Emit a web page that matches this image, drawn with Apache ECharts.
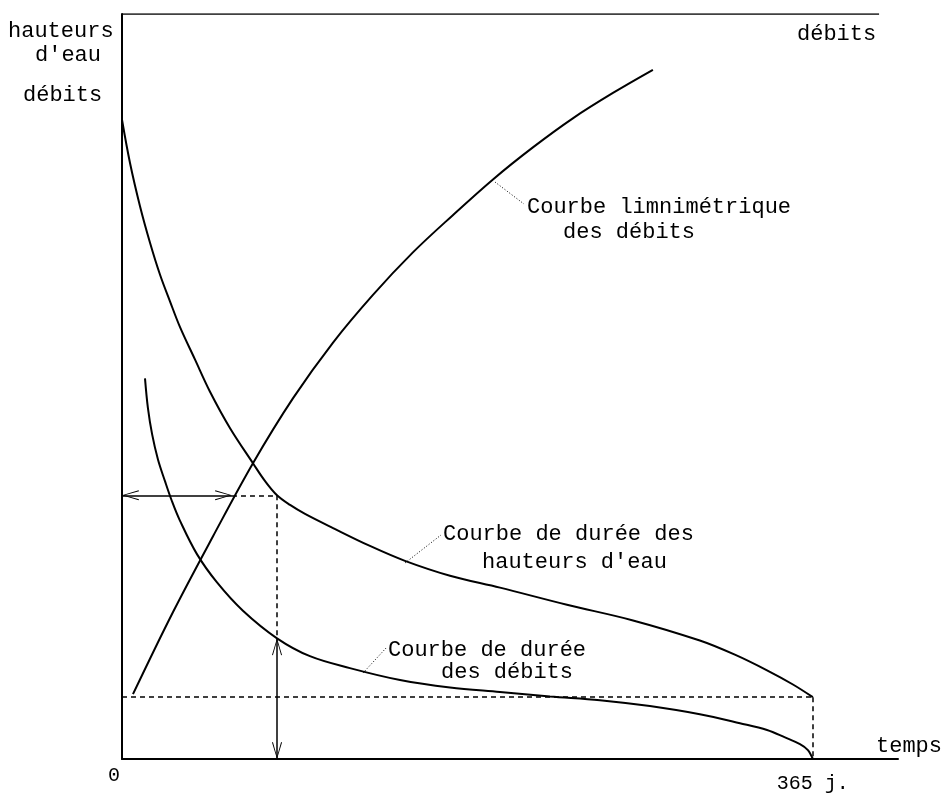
<!DOCTYPE html>
<html>
<head>
<meta charset="utf-8">
<script src="https://cdn.jsdelivr.net/npm/echarts@6/dist/echarts.min.js"></script>
<style>
  html, body { margin: 0; padding: 0; background: #fff; }
  #chart { width: 942px; height: 794px; }
</style>
</head>
<body>
<div id="chart"></div>
<script>
// jours (0 - 365) et ordonnées relatives (0 - 100)
const hauteursX = [0, 4.23, 9.51, 14.8, 20.1, 25.4, 30.6, 38.6, 46.5, 57.1, 69.2, 75.6, 81.9, 88.8, 96.7, 111.5, 131.0, 149.5, 173.3, 199.7, 235.1, 270.0, 305.3, 323.8, 340.8, 354.5, 365];
const hauteursY = [85.8, 80.0, 74.2, 69.3, 65.0, 61.4, 58.0, 53.6, 49.3, 44.4, 39.7, 37.3, 35.4, 34.1, 32.9, 31.0, 28.6, 26.6, 24.6, 23.0, 20.7, 18.6, 15.9, 14.0, 11.9, 10.0, 8.3];

const debitsX = [12.15, 13.7, 15.9, 19.0, 22.7, 26.4, 30.6, 39.6, 50.2, 63.9, 81.9, 99.3, 120.4, 146.9, 173.3, 199.7, 226.1, 252.5, 278.9, 305.3, 326.5, 340.8, 350.3, 358.2, 362.4, 365];
const debitsY = [51.1, 47.1, 43.6, 40.2, 37.3, 34.6, 32.0, 27.5, 23.7, 19.9, 16.2, 13.8, 12.2, 10.6, 9.6, 9.0, 8.4, 7.9, 7.1, 6.0, 4.8, 3.9, 2.9, 2.0, 1.2, 0];

const limniX = [5.8, 26.9, 48.1, 69.2, 90.3, 111.5, 132.6, 153.7, 174.8, 196.0, 217.1, 238.2, 259.4, 280.5];
const limniY = [8.7, 19.7, 29.9, 39.7, 48.4, 55.9, 62.3, 68.0, 73.0, 77.8, 82.1, 86.0, 89.4, 92.5];

// lecture : hauteur -> débit (limnimétrique) -> durée
const lectureHauteur = 35.4;
const lectureDebitJour = 58.1;
const lectureJour = 81.9;
const lectureDebit = 16.2;
const debitMin = 8.3;
const debitMinDebut = 0;
const anneeJours = 365;

const xTicks = [0, 365];
const xTickLabels = ['0', '365 j.'];

const frameTopX = [0, 400];

const FONT = '"Liberation Mono", "DejaVu Sans Mono", monospace';

const zip = (xs, ys) => xs.map((x, i) => [x, ys[i]]);

// open arrow head, tip at the centre of its box
const arrowPath = 'path://M0,0 L5,17 L4.1,17.4 L0,2.6 L-4.1,17.4 L-5,17 Z M0,-17.4 L0.01,-17.4 Z';
const solid = { color: '#000', width: 1.5, type: 'solid' };
const dashed = { color: '#000', width: 1.5, type: [5, 4] };

const chart = echarts.init(document.getElementById('chart'), null, { renderer: 'canvas' });

const txt = (x, y, text) => ({
  type: 'text', x: x, y: y,
  style: { text: text, font: '22px ' + FONT, fill: '#000', verticalAlign: 'middle' }
});
const leader = (x1, y1, x2, y2) => ({
  type: 'line',
  shape: { x1: x1, y1: y1, x2: x2, y2: y2 },
  style: { stroke: '#000', lineWidth: 1, lineDash: [1, 2] }
});

const curve = (name, xs, ys) => ({
  name: name, type: 'line',
  data: zip(xs, ys), smooth: 0.35, showSymbol: false,
  lineStyle: { color: '#000', width: 2 }
});

const option = {
  backgroundColor: '#fff',
  animation: false,
  grid: { left: 122, top: 14, width: 776, height: 748 },
  xAxis: {
    type: 'value', min: 0, max: 410,
    axisLine: { show: true, lineStyle: { color: '#000', width: 2 } },
    axisTick: { show: false },
    splitLine: { show: false },
    axisLabel: {
      customValues: xTicks,
      formatter: v => (v === 0 ? '{a|' : '{b|') + xTickLabels[xTicks.indexOf(v)] + '}',
      color: '#000', fontFamily: FONT, fontSize: 20, margin: 7,
      rich: {
        a: { fontFamily: FONT, fontSize: 20, padding: [0, 16, 0, 0] },
        b: { fontFamily: FONT, fontSize: 20, padding: [8, 0, 0, 0] }
      }
    }
  },
  yAxis: {
    type: 'value', min: 0, max: 100,
    axisLine: { show: true, lineStyle: { color: '#000', width: 2 } },
    axisTick: { show: false },
    splitLine: { show: false },
    axisLabel: { show: false }
  },
  series: [
    curve('Courbe de durée des hauteurs d\'eau', hauteursX, hauteursY),
    curve('Courbe de durée des débits', debitsX, debitsY),
    curve('Courbe limnimétrique des débits', limniX, limniY),
    {
      name: 'cadre', type: 'line',
      data: frameTopX.map(x => [x, 100]), showSymbol: false,
      lineStyle: { color: '#000', width: 1.5 },
      markLine: {
        silent: true,
        symbol: 'none',
        symbolSize: [10, 34],
        label: { show: false },
        data: [
          [{ coord: [0, lectureHauteur], symbol: arrowPath }, { coord: [lectureDebitJour, lectureHauteur], symbol: arrowPath, lineStyle: solid }],
          [{ coord: [lectureDebitJour, lectureHauteur] }, { coord: [lectureJour, lectureHauteur], lineStyle: dashed }],
          [{ coord: [lectureJour, lectureHauteur] }, { coord: [lectureJour, lectureDebit], lineStyle: dashed }],
          [{ coord: [lectureJour, lectureDebit], symbol: arrowPath }, { coord: [lectureJour, 0], symbol: arrowPath, lineStyle: solid }],
          [{ coord: [debitMinDebut, debitMin] }, { coord: [anneeJours, debitMin], lineStyle: dashed }],
          [{ coord: [anneeJours, debitMin] }, { coord: [anneeJours, 0], lineStyle: dashed }]
        ]
      }
    }
  ],
  graphic: [
    txt(8, 31, 'hauteurs'),
    txt(35, 55, 'd\'eau'),
    txt(23, 95, 'débits'),
    txt(797, 34, 'débits'),
    txt(876, 746, 'temps'),
    txt(527, 207, 'Courbe limnimétrique'),
    txt(563, 232, 'des débits'),
    txt(443, 534, 'Courbe de durée des'),
    txt(482, 562, 'hauteurs d\'eau'),
    txt(388, 650, 'Courbe de durée'),
    txt(441, 672, 'des débits'),
    leader(495, 182, 524, 204),
    leader(405, 563, 441, 535),
    leader(363, 673, 387, 647)
  ]
};

chart.setOption(option);
</script>
</body>
</html>
